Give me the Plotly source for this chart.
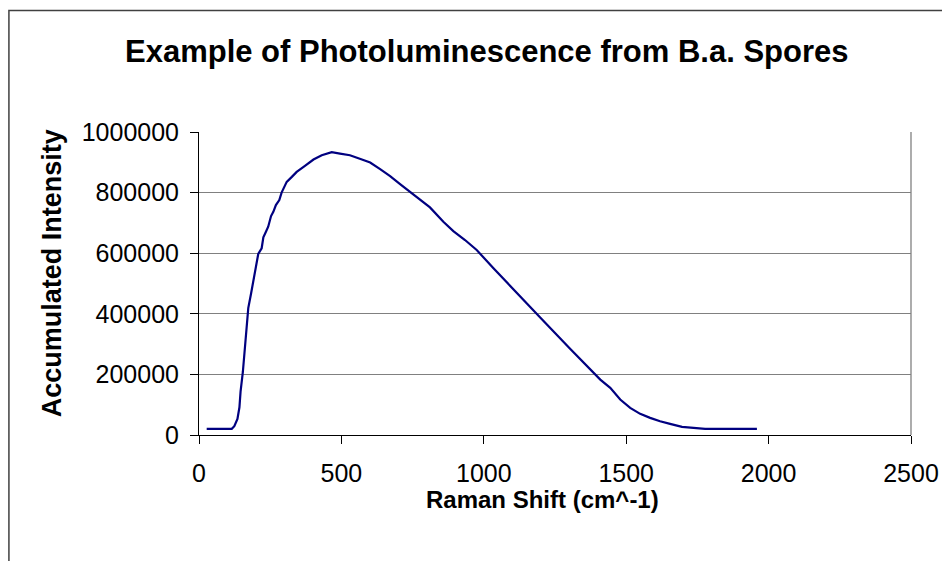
import plotly.graph_objects as go

# Data
raman_shift = [27, 115, 124, 135, 142, 146, 154, 161, 168, 173, 183, 191, 199, 208, 220,
               226, 235, 243, 253, 261, 270, 282, 290, 308, 326, 343, 372, 402, 431, 466,
               495, 530, 572, 601, 636, 671, 706, 741, 776, 811, 858, 893, 934, 975, 1034,
               1069, 1198, 1303, 1409, 1444, 1479, 1514, 1549, 1584, 1619, 1654, 1696, 1777, 1959]
intensity = [20400, 20400, 29000, 53300, 91500, 144200, 208000, 287000, 361400, 418700,
             468000, 506300, 544800, 597400, 616200, 652400, 670800, 687300, 722500, 736700,
             758700, 775200, 800000, 835400, 851900, 868300, 888100, 909100, 923300, 933200,
             928900, 923300, 909100, 899300, 877200, 854200, 827800, 802500, 778500, 751100,
             703700, 673100, 643500, 610600, 550400, 515100, 387700, 284700, 182700, 155400,
             116900, 89500, 69800, 56600, 45400, 36900, 27000, 20400, 20400]

x_ticks = [0, 500, 1000, 1500, 2000, 2500]
x_tick_labels = ["0", "500", "1000", "1500", "2000", "2500"]
y_ticks = [0, 200000, 400000, 600000, 800000, 1000000]
y_tick_labels = ["0", "200000", "400000", "600000", "800000", "1000000"]

title_text = "Example of Photoluminescence from B.a. Spores"
x_title = "Raman Shift (cm^-1)"
y_title = "Accumulated Intensity"

FONT = "Arial, Liberation Sans, sans-serif"

# page body adds an 8px offset; work in screen coordinates and convert
OFF = 8
W, H = 950 - OFF, 561 - OFF
left_s, right_s, top_s, bottom_s = 199, 910.7, 131.7, 435.5
L = left_s - OFF
T = top_s - OFF
R = W - (right_s - OFF)
B = H - (bottom_s - OFF)
PW, PH = W - L - R, H - T - B

def px(xs):
    return (xs - OFF - L) / PW

def py(ys):
    return (H - B - (ys - OFF)) / PH

fig = go.Figure()
fig.add_trace(go.Scatter(x=raman_shift, y=intensity, mode="lines",
                         line=dict(color="#000080", width=2.2), showlegend=False,
                         hoverinfo="skip"))

fig.update_layout(
    width=W, height=H,
    margin=dict(l=L, r=R, t=T, b=B, pad=0),
    paper_bgcolor="white", plot_bgcolor="white",
    font=dict(family=FONT, size=25, color="black"),
    xaxis=dict(range=[0, 2500], tickvals=x_ticks, ticktext=x_tick_labels,
               showgrid=False, zeroline=False, showline=True, linecolor="black",
               linewidth=1, ticks="outside", ticklen=8, tickcolor="black",
               tickfont=dict(size=25, family=FONT), ticklabelstandoff=8,
               fixedrange=True),
    yaxis=dict(range=[0, 1000000], tickvals=y_ticks, ticktext=y_tick_labels,
               showgrid=True, gridcolor="#808080", gridwidth=1.3, zeroline=False,
               showline=True, linecolor="black", linewidth=1, ticks="outside",
               ticklen=8, tickcolor="black", tickfont=dict(size=25, family=FONT),
               ticklabelstandoff=6, fixedrange=True),
    shapes=[
        # plot area right border
        dict(type="line", xref="paper", yref="paper", x0=1, x1=1, y0=0, y1=1,
             line=dict(color="#808080", width=1.3)),
        # chart area border
        dict(type="rect", xref="paper", yref="paper",
             x0=px(9), x1=px(980), y0=py(600), y1=py(10),
             line=dict(color="#404040", width=1.5), fillcolor="rgba(0,0,0,0)", layer="below"),
    ],
    annotations=[
        dict(text=f"<b>{title_text}</b>", xref="paper", yref="paper", x=px(487), y=py(50.5),
             xanchor="center", yanchor="middle", showarrow=False,
             font=dict(size=31, family=FONT, color="black")),
        dict(text=f"<b>{x_title}</b>", xref="paper", yref="paper", x=px(542), y=py(500),
             xanchor="center", yanchor="middle", showarrow=False,
             font=dict(size=24, family=FONT, color="black")),
        dict(text=f"<b>{y_title}</b>", xref="paper", yref="paper", x=px(52), y=py(273.5),
             xanchor="center", yanchor="middle", showarrow=False, textangle=-90,
             font=dict(size=27, family=FONT, color="black")),
    ],
)

fig.write_html("out.html")
